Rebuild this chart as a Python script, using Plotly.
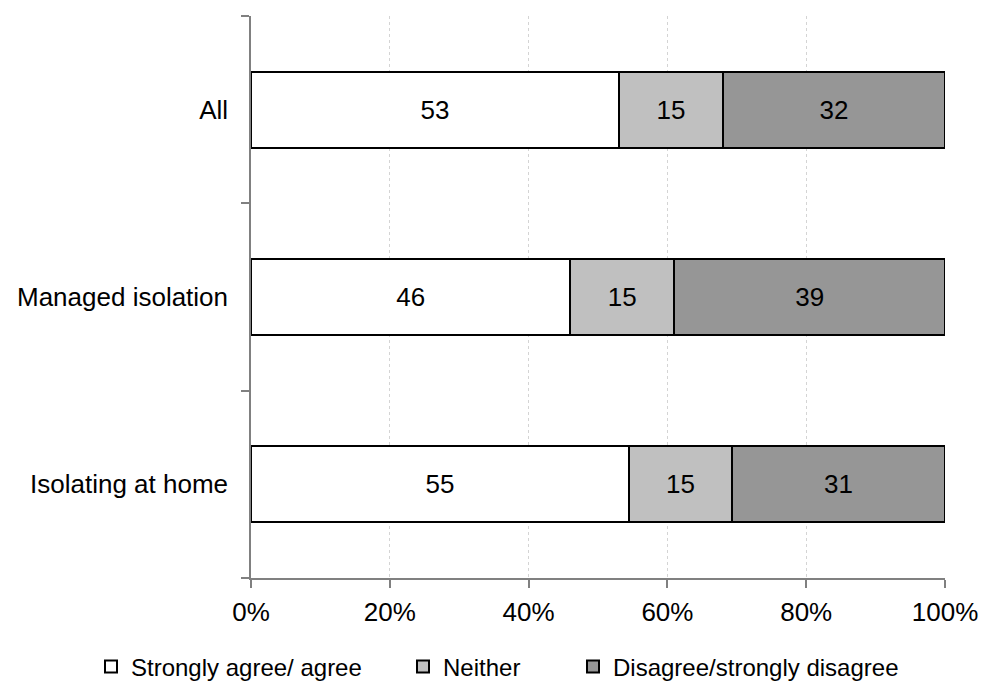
import plotly.graph_objects as go

categories = ["Isolating at home", "Managed isolation", "All"]
agree = [55, 46, 53]
neither = [15, 15, 15]
disagree = [31, 39, 32]
series_names = ["Strongly agree/ agree", "Neither", "Disagree/strongly disagree"]
colors = ["#ffffff", "#c0c0c0", "#969696"]
tick_vals = [0, 20, 40, 60, 80, 100]
tick_text = ["0%", "20%", "40%", "60%", "80%", "100%"]

FONT = "Liberation Sans, Arial, sans-serif"

W, H = 983, 683
L, R, T, B = 251, 38, 16, 105
PW, PH = W - L - R, H - T - B

legend_ids = ["legend", "legend2", "legend3"]
legend_item_x = [91, 403, 573]  # px where each legend entry starts
legend_mid_y = 667

fig = go.Figure()
for name, vals, col, lid in zip(series_names, [agree, neither, disagree], colors, legend_ids):
    fig.add_trace(go.Bar(
        y=categories, x=vals, name=name, orientation="h",
        marker=dict(color=col, line=dict(color="#000000", width=2)),
        text=[str(v) for v in vals], texttemplate="%{text}",
        textposition="inside", insidetextanchor="middle",
        textfont=dict(family=FONT, size=26, color="#000000"),
        hoverinfo="skip", legend=lid,
    ))

legend_common = dict(orientation="h", xanchor="left", yanchor="middle",
                     font=dict(family=FONT, size=24), itemwidth=30,
                     bgcolor="rgba(0,0,0,0)", borderwidth=0)
legends = {}
for lid, px in zip(legend_ids, legend_item_x):
    legends[lid] = dict(legend_common, x=(px - L) / PW, y=(H - B - legend_mid_y) / PH)

fig.update_layout(
    barmode="stack", barnorm="percent", bargap=0.596,
    width=W, height=H,
    margin=dict(l=L, r=R, t=T, b=B, autoexpand=False),
    paper_bgcolor="white", plot_bgcolor="white",
    font=dict(family=FONT, size=26, color="#000000"),
    showlegend=True,
    uniformtext=dict(mode="show", minsize=26),
    **legends,
)
fig.update_xaxes(
    range=[0, 100], tickvals=tick_vals, ticktext=tick_text,
    showgrid=True, gridcolor="#d4d4d4", griddash="dot", gridwidth=1,
    showline=True, linecolor="#808080", linewidth=1.5,
    ticks="outside", ticklen=8, tickcolor="#808080", tickwidth=1.5,
    zeroline=False, tickfont=dict(size=26), automargin=False,
    ticklabelstandoff=2,
)
fig.update_yaxes(
    range=[-0.5, 2.5], showline=True, linecolor="#808080", linewidth=1.5,
    ticks="outside", tickson="boundaries", ticklen=8, tickcolor="#808080", tickwidth=1.5,
    showgrid=False, tickfont=dict(size=26), ticklabelstandoff=16, automargin=False,
)
fig.write_html("out.html", config={"displayModeBar": False},
               post_script="document.body.style.margin='0px';")
